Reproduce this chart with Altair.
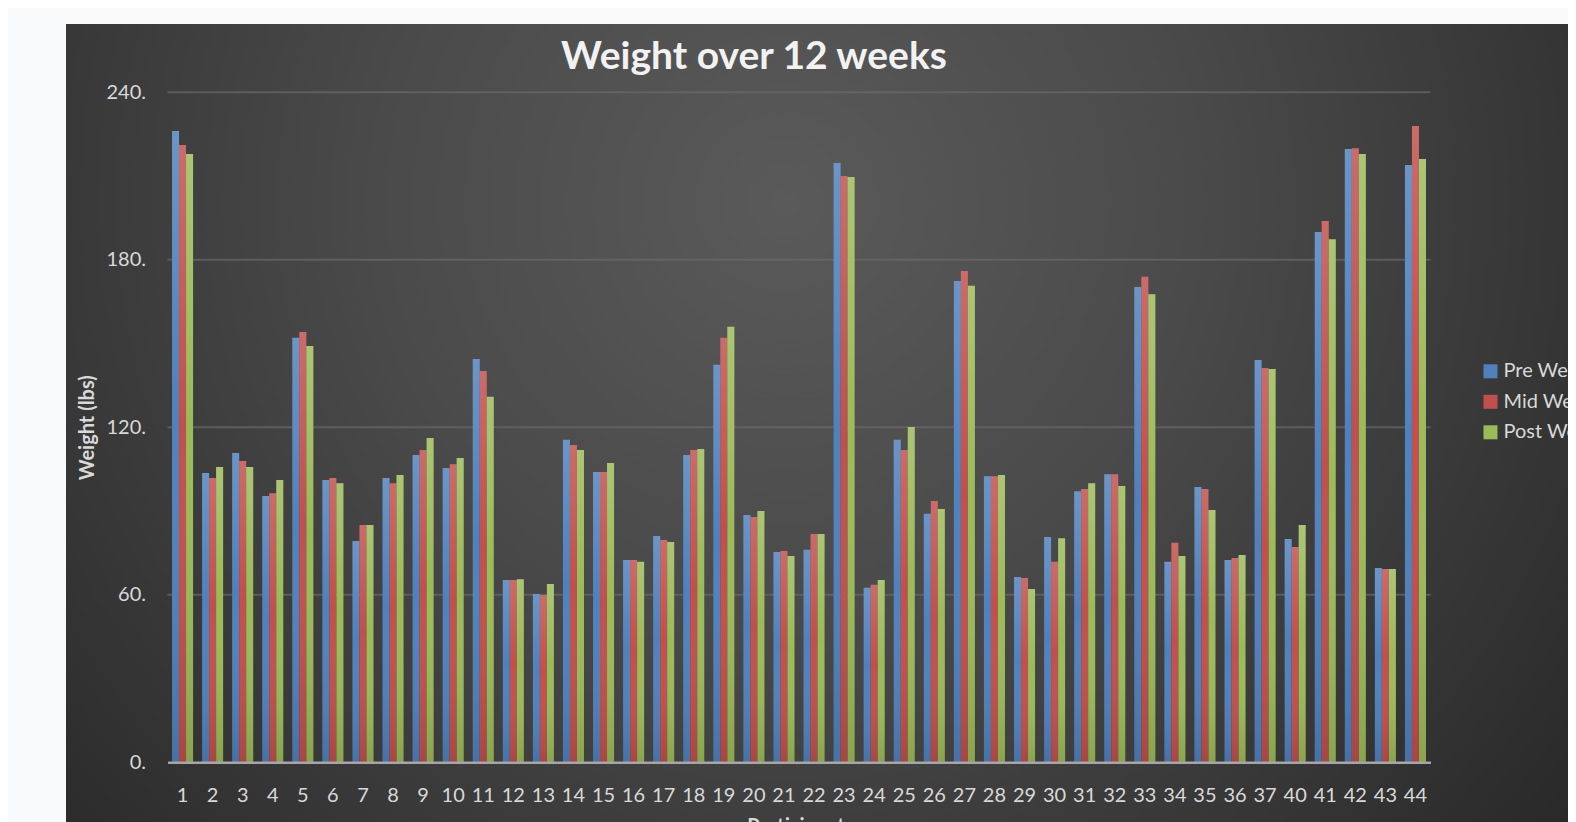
import altair as alt
import pandas as pd

participants = ["1","2","3","4","5","6","7","8","9","10","11","12","13","14","15","16","17","18","19","20",
                "21","22","23","24","25","26","27","28","29","30","31","32","33","34","35","36","37","40","41","42","43","44"]
pre_weight = [226.1,103.6,110.8,95.4,152.1,101.1,79.3,101.8,110.1,105.4,144.5,65.3,60.3,115.5,104.0,72.5,81.1,110.1,142.4,88.6,
              75.3,76.1,214.7,62.5,115.5,89.0,172.4,102.5,66.4,80.7,97.1,103.2,170.3,71.8,98.6,72.5,144.1,80.0,190.0,219.7,69.6,214.0]
mid_weight = [221.1,101.8,107.9,96.4,154.1,101.8,85.0,100.0,111.9,106.8,140.2,65.3,59.9,113.7,104.0,72.5,79.6,111.9,152.1,87.9,
              75.7,81.8,210.0,63.6,111.9,93.6,176.0,102.5,66.0,71.8,97.9,103.2,173.9,78.6,97.9,73.2,141.2,77.1,193.9,220.0,69.2,227.9]
post_weight = [217.9,105.8,105.8,101.1,149.1,100.0,85.0,102.9,116.2,109.0,130.9,65.6,63.9,111.9,107.2,71.8,78.9,112.2,156.0,90.0,
               73.9,81.8,209.7,65.3,120.1,90.7,170.7,102.9,62.1,80.3,100.0,99.0,167.7,73.9,90.4,74.3,140.9,85.0,187.4,217.9,69.2,216.1]
series_names = ["Pre Weight", "Mid Weight", "Post Weight"]
series_colors = ["#4f81bd", "#c0504d", "#9bbb59"]
y_ticks = [0, 60, 120, 180, 240]
grid_ticks = [60, 120, 180, 240]
chart_title = "Weight over 12 weeks"

rows = []
for name, vals in zip(series_names, [pre_weight, mid_weight, post_weight]):
    for p, v in zip(participants, vals):
        rows.append({"Participant": p, "Series": name, "Weight": v})
df = pd.DataFrame(rows)

W, H = 1263, 670
FONT = "Lato"

x_enc = alt.X("Participant:N", sort=participants,
              scale=alt.Scale(paddingInner=0.3, paddingOuter=0.15),
              axis=alt.Axis(title="Participant", labelAngle=0, ticks=False, grid=False,
                            labelFontSize=20, labelColor="#d9d9d9", labelFont=FONT, labelPadding=23,
                            domainColor="#a6a6a6", domainWidth=2.5,
                            titleFont=FONT, titleFontSize=20, titleFontWeight="bold", titleColor="#d9d9d9",
                            titleBaseline="middle", titleY=64, titleX=628, zindex=1))
y_scale = alt.Scale(domain=[0, 240], nice=False)
y_enc = alt.Y("Weight:Q", scale=y_scale,
              axis=alt.Axis(title="Weight (lbs)", values=y_ticks, labelExpr="datum.label + '.'",
                            ticks=False, domain=False, grid=False,
                            labelFontSize=20, labelColor="#d9d9d9", labelFont=FONT, labelPadding=22,
                            titleFont=FONT, titleFontSize=20, titleFontWeight="bold", titleColor="#d9d9d9",
                            titleAngle=270, titleAlign="center", titleBaseline="middle",
                            titleX=-80, titleY=335, zindex=1))
xoff = alt.XOffset("Series:N", sort=series_names, scale=alt.Scale(paddingInner=0, paddingOuter=0))

bg = alt.Chart(pd.DataFrame({"k": [0]})).mark_rect(
    fill=alt.RadialGradient(
        gradient="radial",
        stops=[alt.GradientStop(color="#5a5a5a", offset=0),
               alt.GradientStop(color="#4a4a4a", offset=0.35),
               alt.GradientStop(color="#333333", offset=0.7),
               alt.GradientStop(color="#1f1f1f", offset=1)],
        x1=0.46, y1=0.34, r1=0, x2=0.46, y2=0.34, r2=0.75),
    clip=False
).encode(x=alt.value(-101.5), x2=alt.value(W + 200), y=alt.value(-68.3), y2=alt.value(H + 120))

title_mark = alt.Chart(pd.DataFrame({"t": [chart_title]})).mark_text(
    font=FONT, fontSize=39, fontWeight="bold", color="#f2f2f2", align="center", baseline="middle"
).encode(text="t:N", x=alt.value(586.5), y=alt.value(-35))

grid = alt.Chart(pd.DataFrame({"v": grid_ticks})).mark_rule(color="#6a6a6a", strokeWidth=2, opacity=0.7).encode(
    y=alt.Y("v:Q", scale=y_scale)
)

bars = alt.Chart(df).mark_bar().encode(
    x=x_enc, xOffset=xoff, y=y_enc,
    color=alt.Color("Series:N", sort=series_names,
                    scale=alt.Scale(domain=series_names, range=series_colors),
                    legend=alt.Legend(title=None, orient="none", legendX=1313, legendY=269,
                                      symbolType="square", symbolSize=196, symbolStrokeWidth=0,
                                      labelFontSize=20, labelColor="#d9d9d9", labelFont=FONT,
                                      labelOffset=3, rowPadding=10.5, padding=0, zindex=1))
)

shade = alt.Chart(df).mark_bar(
    fill=alt.LinearGradient(
        gradient="linear", x1=0, y1=0, x2=0, y2=1,
        stops=[alt.GradientStop(color="rgba(255,255,255,0.16)", offset=0),
               alt.GradientStop(color="rgba(255,255,255,0.0)", offset=0.45),
               alt.GradientStop(color="rgba(0,0,0,0.12)", offset=1)])
).encode(x=alt.X("Participant:N", sort=participants), xOffset=xoff, y=alt.Y("Weight:Q", scale=y_scale))

chart = alt.layer(bg, title_mark, grid, bars, shade).properties(
    width=W, height=H,
    autosize=alt.AutoSizeParams(type="none"),
    padding={"left": 159.5, "top": 84.3, "right": 137, "bottom": 60},
    background="#f9fafc"
).configure_view(stroke=None)

chart.save("out.html", embed_options={"renderer": "svg", "actions": False})
